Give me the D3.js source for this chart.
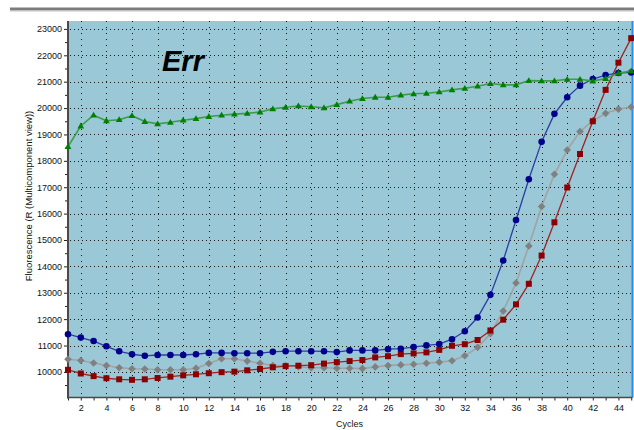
<!DOCTYPE html>
<html>
<head>
<meta charset="utf-8">
<script src="https://cdn.jsdelivr.net/npm/d3@7"></script>
<style>
  html, body { margin: 0; padding: 0; background: #ffffff; }
  svg { display: block; font-family: "Liberation Sans", Arial, sans-serif; }
</style>
</head>
<body>
<svg id="chart" width="634" height="430"></svg>
<script>
// Amplification cycles (x axis)
const cycles = [1, 2, 3, 4, 5, 6, 7, 8, 9, 10, 11, 12, 13, 14, 15, 16, 17, 18, 19, 20,
  21, 22, 23, 24, 25, 26, 27, 28, 29, 30, 31, 32, 33, 34, 35, 36, 37, 38, 39, 40,
  41, 42, 43, 44, 45];

// Fluorescence per cycle, one array per well
const greenTriangles = [18540, 19320, 19730, 19520, 19560, 19710, 19490, 19400, 19460, 19540,
  19600, 19680, 19730, 19770, 19800, 19850, 19970, 20030, 20080, 20050,
  20010, 20130, 20260, 20360, 20410, 20410, 20490, 20540, 20560, 20610,
  20690, 20750, 20830, 20930, 20880, 20880, 21040, 21030, 21030, 21090,
  21090, 21020, 21120, 21320, 21410];

const blueCircles = [11430, 11300, 11170, 10970, 10780, 10670, 10610, 10640, 10640, 10640,
  10670, 10720, 10720, 10710, 10710, 10710, 10760, 10785, 10785, 10785,
  10780, 10750, 10815, 10815, 10815, 10860, 10880, 10940, 11005, 11055,
  11240, 11540, 12060, 12920, 14220, 15760, 17300, 18720, 19780, 20410,
  20850, 21100, 21250, 21330, 21350];

const grayDiamonds = [10480, 10430, 10340, 10240, 10160, 10120, 10110, 10080, 10080, 10080,
  10140, 10320, 10500, 10500, 10410, 10330, 10240, 10240, 10200, 10155,
  10160, 10140, 10140, 10125, 10190, 10240, 10265, 10290, 10330, 10370,
  10425, 10610, 10930, 11450, 12310, 13370, 14770, 16270, 17490, 18410,
  19110, 19520, 19800, 19960, 20040];

const redSquares = [10080, 9940, 9840, 9760, 9720, 9700, 9720, 9770, 9820, 9870,
  9910, 9950, 9990, 10010, 10060, 10110, 10175, 10220, 10235, 10255,
  10315, 10370, 10410, 10450, 10550, 10595, 10675, 10700, 10740, 10835,
  10990, 11050, 11210, 11570, 11980, 12560, 13340, 14410, 15670, 16990,
  18260, 19500, 20690, 21720, 22650];

// Axis tick labels
const xTickLabels = [2, 4, 6, 8, 10, 12, 14, 16, 18, 20, 22, 24, 26, 28, 30, 32, 34, 36, 38, 40, 42, 44];
const yTickLabels = [10000, 11000, 12000, 13000, 14000, 15000, 16000, 17000, 18000, 19000,
  20000, 21000, 22000, 23000];
const yMinorTicks = [9500, 10500, 11500, 12500, 13500, 14500, 15500, 16500, 17500, 18500,
  19500, 20500, 21500, 22500];

const title = "Err";
const xTitle = "Cycles";
const yTitle = "Fluorescence (R (Multicomponent view))";

const svg = d3.select("#chart");
const plot = { left: 68, top: 21, right: 632.5, bottom: 397.5 };

const x = d3.scaleLinear().domain([1, 45.1]).range([plot.left, plot.right]);
const y = d3.scaleLinear().domain([9030, 23300]).range([plot.bottom, plot.top]);

// header rule
svg.append("rect").attr("x", 10).attr("y", 7.5).attr("width", 624).attr("height", 3)
  .attr("fill", "#7c7c7c");
svg.append("rect").attr("x", 10).attr("y", 10.5).attr("width", 624).attr("height", 1)
  .attr("fill", "#c4c4c4");

// plot background
svg.append("rect")
  .attr("x", plot.left).attr("y", plot.top)
  .attr("width", plot.right - plot.left).attr("height", plot.bottom - plot.top)
  .attr("fill", "#9ac8d6");

// dotted grid
const grid = svg.append("g").attr("stroke", "#1a1a1a").attr("stroke-width", 1);
grid.selectAll("line.h").data(yTickLabels).join("line")
  .attr("class", "h")
  .attr("x1", plot.left + 2).attr("x2", plot.right)
  .attr("y1", d => Math.round(y(d)) + 0.5).attr("y2", d => Math.round(y(d)) + 0.5)
  .attr("stroke-dasharray", "1,3");
grid.selectAll("line.v").data(xTickLabels).join("line")
  .attr("class", "v")
  .attr("x1", d => Math.round(x(d)) + 0.5).attr("x2", d => Math.round(x(d)) + 0.5)
  .attr("y1", plot.top).attr("y2", plot.bottom)
  .attr("stroke-dasharray", "1,5");

// right edge
svg.append("line")
  .attr("x1", 632.5).attr("x2", 632.5).attr("y1", plot.top).attr("y2", plot.bottom)
  .attr("stroke", "#2b8cf0").attr("stroke-width", 2);

// axes
const yAxis = svg.append("g").attr("transform", `translate(${plot.left},0)`)
  .call(d3.axisLeft(y).tickValues(yTickLabels).tickSize(4).tickPadding(2).tickFormat(d3.format("d")));
const yMinor = svg.append("g").attr("transform", `translate(${plot.left},0)`)
  .call(d3.axisLeft(y).tickValues(yMinorTicks).tickSize(3).tickFormat(""));
const xAxis = svg.append("g").attr("transform", `translate(0,${plot.bottom})`)
  .call(d3.axisBottom(x).tickValues(cycles).tickSize(3).tickPadding(4)
    .tickFormat(d => xTickLabels.includes(d) ? d : ""));

[yAxis, yMinor, xAxis].forEach(g => {
  g.select(".domain").remove();
  g.selectAll("line").attr("stroke", "#222").attr("stroke-width", 1);
  g.selectAll("text").attr("fill", "#111").style("font-size", "9px")
    .style("font-family", "'Liberation Sans', Arial, sans-serif");
});

// axis lines
svg.append("line").attr("x1", plot.left).attr("x2", plot.left)
  .attr("y1", plot.top).attr("y2", plot.bottom + 1)
  .attr("stroke", "#4a4a4a").attr("stroke-width", 2);
svg.append("line").attr("x1", plot.left - 1).attr("x2", plot.right)
  .attr("y1", plot.bottom).attr("y2", plot.bottom)
  .attr("stroke", "#4a4a4a").attr("stroke-width", 1.5);

// axis titles
svg.append("text").attr("x", 349.5).attr("y", 427).attr("text-anchor", "middle")
  .style("font-size", "9px").attr("fill", "#111").text(xTitle);
svg.append("text")
  .attr("transform", "translate(32,196) rotate(-90)")
  .attr("text-anchor", "middle").style("font-size", "9.5px").attr("fill", "#111")
  .text(yTitle);

// chart title inside the plot
svg.append("text").attr("x", 162).attr("y", 70.5)
  .style("font-size", "29px").style("font-weight", "bold").style("font-style", "italic")
  .attr("fill", "#000").text(title);

// markers
const shapes = {
  triangle: "M0,-3.4L3.4,2.4L-3.4,2.4Z",
  circle: d3.symbol().type(d3.symbolCircle).size(34)(),
  diamond: "M0,-3.8L3.8,0L0,3.8L-3.8,0Z",
  square: "M-3,-3H3V3H-3Z"
};

const series = [
  { values: grayDiamonds, line: "#a2a2a2", fill: "#808080", shape: "diamond", width: 1.6 },
  { values: redSquares, line: "#9e2424", fill: "#8b0000", shape: "square", width: 1.3 },
  { values: blueCircles, line: "#2a3ea6", fill: "#00008b", shape: "circle", width: 1.3 },
  { values: greenTriangles, line: "#3c9c4c", fill: "#008000", shape: "triangle", width: 1.6 }
];

const line = d3.line().x(d => x(d[0])).y(d => y(d[1]));

series.forEach(s => {
  const pts = cycles.map((c, i) => [c, s.values[i]]);
  const g = svg.append("g");
  g.append("path").datum(pts).attr("d", line)
    .attr("fill", "none").attr("stroke", s.line).attr("stroke-width", s.width)
    .attr("stroke-linejoin", "round");
  g.selectAll("path.m").data(pts).join("path")
    .attr("class", "m")
    .attr("transform", d => `translate(${x(d[0])},${y(d[1])})`)
    .attr("d", shapes[s.shape])
    .attr("fill", s.fill);
});
</script>
</body>
</html>
